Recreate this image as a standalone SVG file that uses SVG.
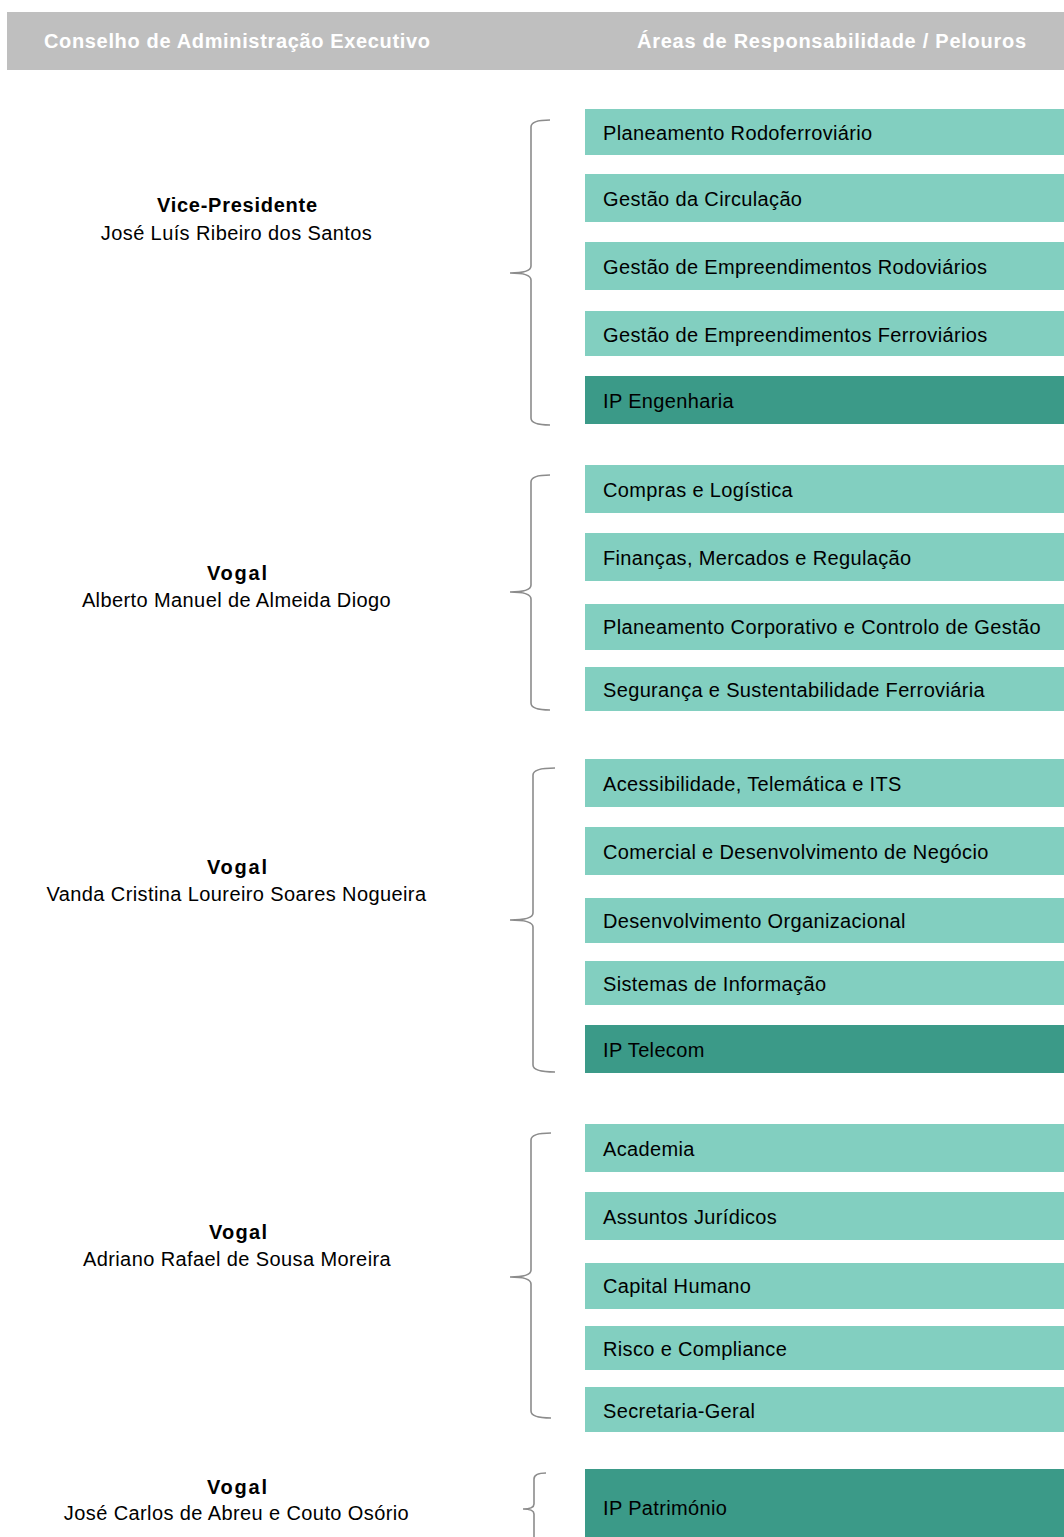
<svg xmlns="http://www.w3.org/2000/svg" width="1064" height="1537" viewBox="0 0 1064 1537">
<style>
.hdr{fill:#bfbfbf}
.ht{font-family:"Liberation Sans",Arial,sans-serif;font-size:20px;font-weight:bold;fill:#ffffff}
.lt{fill:#82cfc0}
.dk{fill:#3b9a88}
.bt{font-family:"Liberation Sans",Arial,sans-serif;font-size:20px;fill:#000000;letter-spacing:0.35px}
.role{font-family:"Liberation Sans",Arial,sans-serif;font-size:20px;font-weight:bold;fill:#000000;text-anchor:middle}
.name{font-family:"Liberation Sans",Arial,sans-serif;font-size:20px;fill:#000000;text-anchor:middle;letter-spacing:0.4px}
.br{fill:none;stroke:#8c8c8c;stroke-width:1.6}
</style>
<rect width="1064" height="1537" fill="#ffffff"/>
<g id="header">
<rect class="hdr" x="7" y="12" width="1057" height="58"/>
<text class="ht" x="44" y="48" textLength="386" lengthAdjust="spacing">Conselho de Administração Executivo</text>
<text class="ht" x="637" y="48" textLength="389" lengthAdjust="spacing">Áreas de Responsabilidade / Pelouros</text>
</g>
<g id="members">
<g id="m1"><text class="role" x="237" y="212" textLength="160" lengthAdjust="spacing">Vice-Presidente</text><text class="name" x="236.5" y="240">José Luís Ribeiro dos Santos</text></g>
<g id="m2"><text class="role" x="237" y="580" textLength="60" lengthAdjust="spacing">Vogal</text><text class="name" x="236.5" y="607">Alberto Manuel de Almeida Diogo</text></g>
<g id="m3"><text class="role" x="237" y="874" textLength="60" lengthAdjust="spacing">Vogal</text><text class="name" x="236.5" y="901">Vanda Cristina Loureiro Soares Nogueira</text></g>
<g id="m4"><text class="role" x="238" y="1239" textLength="58" lengthAdjust="spacing">Vogal</text><text class="name" x="237" y="1266">Adriano Rafael de Sousa Moreira</text></g>
<g id="m5"><text class="role" x="237" y="1494" textLength="60" lengthAdjust="spacing">Vogal</text><text class="name" x="236.5" y="1520">José Carlos de Abreu e Couto Osório</text></g>
</g>
<g id="connectors">
<path class="br" d="M550,120 Q531,120 531,127 L531,266 Q531,273 510,273 Q531,273 531,280 L531,418 Q531,425 550,425"/>
<path class="br" d="M550,475 Q531,475 531,482 L531,585 Q531,592 510,592 Q531,592 531,599 L531,703 Q531,710 550,710"/>
<path class="br" d="M555,768 Q533,768 533,775 L533,913 Q533,920 510,920 Q533,920 533,927 L533,1065 Q533,1072 555,1072"/>
<path class="br" d="M551,1133 Q531,1133 531,1140 L531,1270 Q531,1277 510,1277 Q531,1277 531,1284 L531,1411 Q531,1418 551,1418"/>
<path class="br" d="M546,1473 Q534,1473 534,1479 L534,1504 Q534,1509 523,1509 Q534,1509 534,1514 L534,1545"/>
</g>
<g id="areas">
<g id="a1"><rect class="lt" x="585" y="109" width="479" height="46"/><text class="bt" x="603" y="140">Planeamento Rodoferroviário</text></g>
<g id="a2"><rect class="lt" x="585" y="174" width="479" height="48"/><text class="bt" x="603" y="206">Gestão da Circulação</text></g>
<g id="a3"><rect class="lt" x="585" y="242" width="479" height="48"/><text class="bt" x="603" y="274">Gestão de Empreendimentos Rodoviários</text></g>
<g id="a4"><rect class="lt" x="585" y="311" width="479" height="45"/><text class="bt" x="603" y="342">Gestão de Empreendimentos Ferroviários</text></g>
<g id="a5"><rect class="dk" x="585" y="376" width="479" height="48"/><text class="bt" x="603" y="408">IP Engenharia</text></g>
<g id="a6"><rect class="lt" x="585" y="465" width="479" height="48"/><text class="bt" x="603" y="497">Compras e Logística</text></g>
<g id="a7"><rect class="lt" x="585" y="533" width="479" height="48"/><text class="bt" x="603" y="565">Finanças, Mercados e Regulação</text></g>
<g id="a8"><rect class="lt" x="585" y="604" width="479" height="46"/><text class="bt" x="603" y="634">Planeamento Corporativo e Controlo de Gestão</text></g>
<g id="a9"><rect class="lt" x="585" y="667" width="479" height="44"/><text class="bt" x="603" y="697">Segurança e Sustentabilidade Ferroviária</text></g>
<g id="a10"><rect class="lt" x="585" y="759" width="479" height="48"/><text class="bt" x="603" y="791">Acessibilidade, Telemática e ITS</text></g>
<g id="a11"><rect class="lt" x="585" y="827" width="479" height="48"/><text class="bt" x="603" y="859">Comercial e Desenvolvimento de Negócio</text></g>
<g id="a12"><rect class="lt" x="585" y="898" width="479" height="45"/><text class="bt" x="603" y="928">Desenvolvimento Organizacional</text></g>
<g id="a13"><rect class="lt" x="585" y="961" width="479" height="44"/><text class="bt" x="603" y="991">Sistemas de Informação</text></g>
<g id="a14"><rect class="dk" x="585" y="1025" width="479" height="48"/><text class="bt" x="603" y="1057">IP Telecom</text></g>
<g id="a15"><rect class="lt" x="585" y="1124" width="479" height="48"/><text class="bt" x="603" y="1156">Academia</text></g>
<g id="a16"><rect class="lt" x="585" y="1192" width="479" height="48"/><text class="bt" x="603" y="1224">Assuntos Jurídicos</text></g>
<g id="a17"><rect class="lt" x="585" y="1263" width="479" height="46"/><text class="bt" x="603" y="1293">Capital Humano</text></g>
<g id="a18"><rect class="lt" x="585" y="1326" width="479" height="44"/><text class="bt" x="603" y="1356">Risco e Compliance</text></g>
<g id="a19"><rect class="lt" x="585" y="1387" width="479" height="45"/><text class="bt" x="603" y="1418">Secretaria-Geral</text></g>
<g id="a20"><rect class="dk" x="585" y="1469" width="479" height="68"/><text class="bt" x="603" y="1515">IP Património</text></g>
</g>
</svg>
